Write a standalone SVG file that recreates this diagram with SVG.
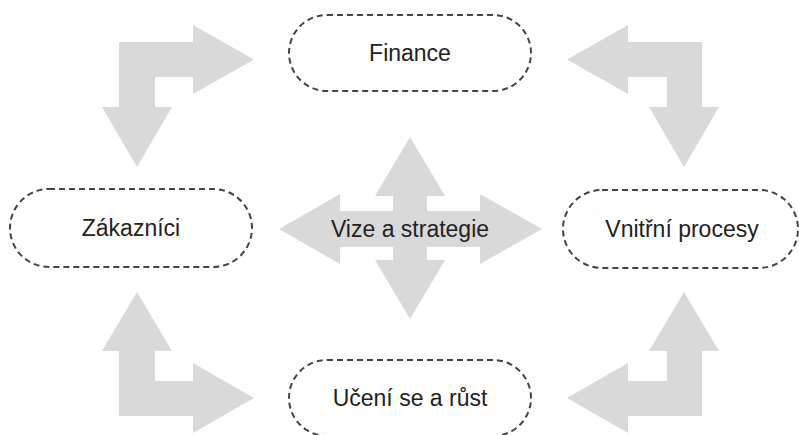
<svg xmlns="http://www.w3.org/2000/svg" width="799" height="435" viewBox="0 0 799 435">
<style>
.box{fill:#ffffff;stroke:#444444;stroke-width:2;stroke-dasharray:6 4}
.arr{fill:#d9d9d9;stroke:none}
.lbl{font-family:"Liberation Sans",Arial,sans-serif;font-size:23px;fill:#222222;text-anchor:middle}
</style>
<rect width="799" height="435" fill="#ffffff"/>
<g id="connectors">
<polygon class="arr" points="119,42 193,42 193,25 254,59.5 193,94 193,77 155,77 155,107 172,107 137,167 102,107 119,107"/>
<polygon class="arr" points="702,42 628,42 628,25 567,59.5 628,94 628,77 667,77 667,107 649,107 684,167 719,107 702,107"/>
<polygon class="arr" points="119,416 119,351 102,351 137,292 172,351 155,351 155,381 193,381 193,363 254,398 193,433 193,416"/>
<polygon class="arr" points="702,416 702,351 719,351 684,292 649,351 667,351 667,381 628,381 628,363 567,398 628,433 628,416"/>
</g>
<g id="vize">
<polygon class="arr" points="393,211 393,196 375,196 410,137 445,196 427,196 427,211 480,211 480,194 542,229 480,264 480,247 427,247 427,260 445,260 410,319 375,260 393,260 393,247 340,247 340,264 279,229 340,194 340,211"/>
<text class="lbl" x="410" y="237">Vize a strategie</text>
</g>
<g id="finance">
<rect class="box" x="289" y="15" width="242" height="76" rx="38" ry="38"/>
<text class="lbl" x="410" y="61">Finance</text>
</g>
<g id="zakaznici">
<rect class="box" x="10" y="189" width="242" height="78" rx="39" ry="39"/>
<text class="lbl" x="131" y="236">Zákazníci</text>
</g>
<g id="procesy">
<rect class="box" x="563" y="190" width="235" height="78" rx="39" ry="39"/>
<text class="lbl" x="682" y="237">Vnitřní procesy</text>
</g>
<g id="uceni">
<rect class="box" x="289" y="360" width="242" height="76" rx="38" ry="38"/>
<text class="lbl" x="410" y="406">Učení se a růst</text>
</g>
</svg>
